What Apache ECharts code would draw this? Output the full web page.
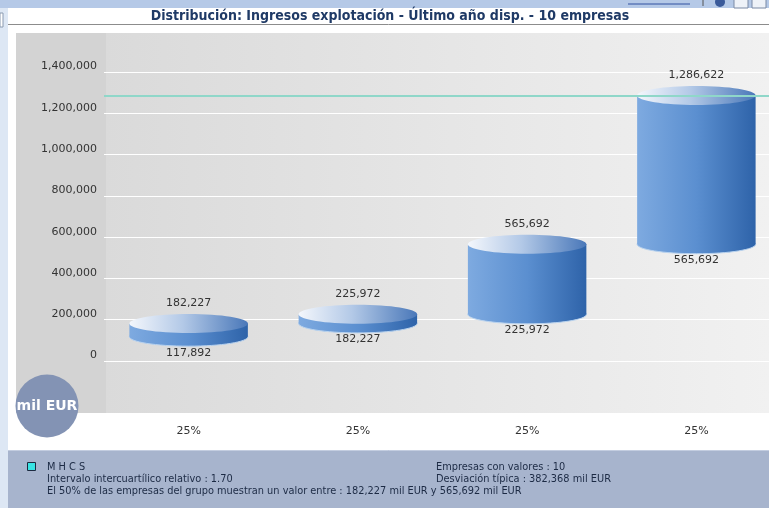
<!DOCTYPE html>
<html>
<head>
<meta charset="utf-8">
<script src="https://cdn.jsdelivr.net/npm/echarts@6/dist/echarts.min.js"></script>
<style>
  html, body { margin: 0; padding: 0; background: #fff; }
  #chart { width: 769px; height: 508px; }
</style>
</head>
<body>
<div id="chart"></div>
<script>
// cuartiles: limite inferior / superior de cada tramo
var categories = ['25%', '25%', '25%', '25%']
var lowValues = [117892, 182227, 225972, 565692]
var highValues = [182227, 225972, 565692, 1286622]
var companyValue = 1286622 // M H C S
var yTicks = [0, 1400000, 200000] // min, max, interval

var FONT = 'DejaVu Sans, Verdana, sans-serif'

var chart = echarts.init(document.getElementById('chart'))

function fmt(v) {
  return v.toLocaleString('en-US')
}

var bodyGrad = new echarts.graphic.LinearGradient(0, 0, 1, 0, [
  { offset: 0, color: '#7eaae0' },
  { offset: 0.5, color: '#5b8fd0' },
  { offset: 1, color: '#2e63a9' }
])
var topGrad = new echarts.graphic.LinearGradient(0, 0, 1, 0, [
  { offset: 0, color: '#f4f7fc' },
  { offset: 0.45, color: '#b3c9e7' },
  { offset: 1, color: '#4a78b9' }
])

function renderCylinder(params, api) {
  var x = api.coord([api.value(0), 0])[0]
  var yLow = api.coord([api.value(0), api.value(1)])[1]
  var yHigh = api.coord([api.value(0), api.value(2)])[1]
  var w = api.size([1, 0])[0] * 0.7
  var rx = w / 2
  var ry = 9.5
  var textStyle = { fill: '#333', font: '11px ' + FONT, align: 'center', verticalAlign: 'middle' }
  return {
    type: 'group',
    children: [
      { type: 'ellipse', shape: { cx: x, cy: yLow, rx: rx, ry: ry }, style: { fill: bodyGrad, stroke: '#b9d3ef', lineWidth: 1 } },
      { type: 'rect', shape: { x: x - rx, y: yHigh, width: w, height: yLow - yHigh }, style: { fill: bodyGrad } },
      { type: 'ellipse', shape: { cx: x, cy: yHigh, rx: rx, ry: ry }, style: { fill: topGrad } },
      { type: 'text', style: Object.assign({ text: fmt(api.value(2)), x: x, y: yHigh - 20 }, textStyle) },
      { type: 'text', style: Object.assign({ text: fmt(api.value(1)), x: x, y: yLow + 16 }, textStyle) }
    ]
  }
}

var seriesData = categories.map(function (c, i) {
  return [i, lowValues[i], highValues[i]]
})

var footText = { fill: '#1c2a44', font: '9.8px ' + FONT, verticalAlign: 'middle' }

var option = {
  animation: false,
  grid: {
    left: 104,
    width: 677,
    top: 72,
    bottom: 147,
    outerBoundsMode: 'none'
  },
  graphic: [
    // marco de la pagina
    { type: 'rect', z: -20, shape: { x: 0, y: 0, width: 769, height: 8 }, style: { fill: '#b5c9e7' } },
    { type: 'rect', z: -20, shape: { x: 0, y: 8, width: 8, height: 500 }, style: { fill: '#dde7f4' } },
    { type: 'rect', z: -19, shape: { x: 0, y: 13, width: 3, height: 14 }, style: { fill: '#fff', stroke: '#8a9ab0', lineWidth: 1 } },
    { type: 'line', z: -19, shape: { x1: 628, y1: 4, x2: 690, y2: 4 }, style: { stroke: '#3050a0', lineWidth: 1 } },
    { type: 'line', z: -19, shape: { x1: 703, y1: 0, x2: 703, y2: 6 }, style: { stroke: '#555', lineWidth: 1 } },
    { type: 'circle', z: -19, shape: { cx: 720, cy: 2, r: 5 }, style: { fill: '#3a5a9a' } },
    { type: 'rect', z: -19, shape: { x: 734, y: -2, width: 14, height: 10 }, style: { fill: '#eef2f8', stroke: '#7a8aa5' } },
    { type: 'rect', z: -19, shape: { x: 752, y: -2, width: 14, height: 10 }, style: { fill: '#eef2f8', stroke: '#7a8aa5' } },
    { type: 'line', z: -19, shape: { x1: 8, y1: 24.5, x2: 769, y2: 24.5 }, style: { stroke: '#8c8c8c', lineWidth: 1 } },
    { type: 'text', z: -19, style: { text: 'Distribución: Ingresos explotación - Último año disp. - 10 empresas', x: 390, y: 16, align: 'center', verticalAlign: 'middle', fill: '#1f3a66', font: 'bold 14px DejaVu Sans Condensed, DejaVu Sans, sans-serif' } },
    // fondo del grafico
    { type: 'rect', z: -20, shape: { x: 16, y: 33, width: 90, height: 380 }, style: { fill: '#d3d3d3' } },
    {
      type: 'rect', z: -20, shape: { x: 106, y: 33, width: 663, height: 380 },
      style: {
        fill: new echarts.graphic.LinearGradient(0, 0, 1, 0, [
          { offset: 0, color: '#dadada' },
          { offset: 1, color: '#f1f1f1' }
        ])
      }
    },
    // unidad
    { type: 'circle', z: 50, shape: { cx: 47, cy: 406, r: 31.5 }, style: { fill: '#8393b4' } },
    { type: 'text', z: 51, style: { text: 'mil EUR', x: 47, y: 406, align: 'center', verticalAlign: 'middle', fill: '#fff', font: 'bold 14px ' + FONT } },
    // pie
    { type: 'rect', z: -20, shape: { x: 8, y: 450, width: 761, height: 58 }, style: { fill: '#a7b4cd' } },
    { type: 'line', z: -19, shape: { x1: 8, y1: 450.5, x2: 769, y2: 450.5 }, style: { stroke: '#c3cde0', lineWidth: 1 } },
    { type: 'rect', z: -19, shape: { x: 27.5, y: 462.5, width: 8, height: 8 }, style: { fill: '#38e3e3', stroke: '#1d2a40', lineWidth: 1 } },
    { type: 'text', z: -19, style: Object.assign({ text: 'M H C S', x: 47, y: 467 }, footText) },
    { type: 'text', z: -19, style: Object.assign({ text: 'Intervalo intercuartílico relativo : 1.70', x: 47, y: 479 }, footText) },
    { type: 'text', z: -19, style: Object.assign({ text: 'El 50% de las empresas del grupo muestran un valor entre : 182,227 mil EUR y 565,692 mil EUR', x: 47, y: 491 }, footText) },
    { type: 'text', z: -19, style: Object.assign({ text: 'Empresas con valores : 10', x: 436, y: 467 }, footText) },
    { type: 'text', z: -19, style: Object.assign({ text: 'Desviación típica : 382,368 mil EUR', x: 436, y: 479 }, footText) }
  ],
  xAxis: {
    type: 'category',
    data: categories,
    axisLine: { show: false },
    axisTick: { show: false },
    axisLabel: {
      margin: 65,
      color: '#333',
      fontSize: 11,
      fontFamily: FONT
    }
  },
  yAxis: {
    type: 'value',
    min: yTicks[0],
    max: yTicks[1],
    interval: yTicks[2],
    axisLine: { show: false },
    axisTick: { show: false },
    axisLabel: {
      margin: 7,
      color: '#333',
      fontSize: 11,
      fontFamily: FONT,
      verticalAlign: 'bottom',
      formatter: function (v) { return fmt(v) }
    },
    splitLine: {
      lineStyle: { color: '#ffffff', width: 1 }
    }
  },
  series: [{
    type: 'custom',
    renderItem: renderCylinder,
    data: seriesData,
    clip: false,
    z: 3,
    markLine: {
      silent: true,
      symbol: 'none',
      label: { show: false },
      lineStyle: { color: '#8fd7c9', width: 2, type: 'solid' },
      data: [{ yAxis: companyValue }]
    }
  }]
}

chart.setOption(option)
</script>
</body>
</html>
